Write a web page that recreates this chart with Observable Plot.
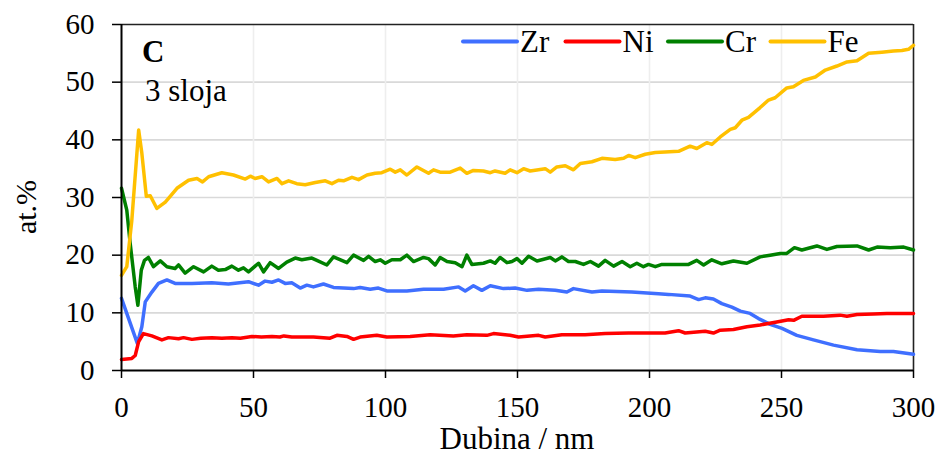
<!DOCTYPE html>
<html>
<head>
<meta charset="utf-8">
<script src="https://cdn.jsdelivr.net/npm/d3@7"></script>
<script src="https://cdn.jsdelivr.net/npm/@observablehq/plot@0.6"></script>
<style>
  html, body { margin: 0; padding: 0; background: white; }
  #chart { width: 943px; height: 455px; }
</style>
</head>
<body>
<div id="chart"></div>
<script>
// ---- Data (depth in nm, atomic %) ----
const seriesNames = ["Zr", "Ni", "Cr", "Fe"];
const seriesColors = ["#3f6fff", "#ff0000", "#008000", "#ffc000"];
const xTicks = [0, 50, 100, 150, 200, 250, 300];
const yTicks = [0, 10, 20, 30, 40, 50, 60];
const xLabel = "Dubina / nm";
const yLabel = "at.%";
const panelLetter = "C";
const panelNote = "3 sloja";

const zr = [[0,12.5],[2.7,9.0],[6,4.7],[7.7,7.6],[9,11.9],[11.5,13.6],[14,15.1],[17.2,15.7],[20.3,15.1],[26.7,15.1],[34.2,15.2],[40.5,15.0],[48.1,15.4],[51.9,14.8],[54.4,15.5],[57,15.3],[59.5,15.7],[62,15.1],[64.5,15.2],[67.7,14.3],[70.2,14.8],[72.7,14.5],[76.5,15.0],[80.3,14.4],[87.9,14.2],[90.4,14.4],[94.2,14.1],[97.3,14.3],[100.5,13.8],[108.1,13.8],[114.4,14.1],[122,14.1],[127.7,14.5],[130.2,13.8],[133.3,14.7],[136.5,13.9],[139.7,14.7],[144.7,14.2],[149.1,14.3],[153.6,13.9],[158,14.1],[164.3,13.9],[168.7,13.6],[171.2,14.2],[178.2,13.6],[182,13.8],[193.3,13.6],[203.4,13.3],[207.2,13.2],[215.4,12.9],[218.6,12.3],[221.1,12.6],[224.2,12.4],[227.4,11.6],[231.2,11.0],[234.4,10.3],[238.1,9.9],[241.3,9.0],[245.7,8.0],[250.2,7.3],[255.8,6.1],[262.1,5.3],[269.7,4.4],[278.6,3.6],[287.4,3.3],[292.4,3.3],[300,2.8]];

const ni = [[0,1.9],[3.9,2.1],[5.2,2.6],[6.5,5.0],[8.3,6.4],[11.5,6.0],[15.3,5.3],[17.8,5.7],[21.6,5.5],[23.5,5.7],[26.7,5.4],[30,5.6],[34.2,5.7],[38,5.6],[41.8,5.7],[45,5.6],[49.4,5.9],[53,5.8],[57,5.9],[60,5.8],[61.5,6.0],[64.5,5.8],[72.7,5.8],[79,5.6],[81.6,6.1],[85.4,5.9],[87.9,5.4],[90.4,5.8],[96.7,6.1],[100.5,5.8],[109.3,5.9],[116.9,6.2],[125.7,6.0],[130.8,6.2],[138.4,6.1],[140.9,6.4],[147.2,6.1],[150.4,5.8],[158,6.1],[160.5,5.8],[166.8,6.2],[175.6,6.2],[183.2,6.4],[192.1,6.5],[199.6,6.5],[205.9,6.5],[211,6.9],[213.5,6.5],[221.1,6.8],[224.2,6.5],[226.8,7.0],[231.8,7.1],[236.9,7.6],[241.9,7.9],[248.2,8.4],[252.7,8.8],[254.6,8.7],[257.7,9.4],[265.9,9.4],[272.2,9.6],[274.8,9.4],[278.6,9.7],[284.8,9.8],[289.9,9.9],[300,9.9]];

const cr = [[0,31.6],[2,27.8],[3.3,22],[5.2,14.5],[6.2,11.3],[7.5,17.4],[8.7,19.1],[10.2,19.6],[12.1,18],[14.7,19],[17.2,18],[20.3,17.7],[21.6,18.3],[24.1,16.9],[27.3,18],[31.1,17.1],[34.2,18.1],[36.7,17.4],[39.3,17.5],[41.8,18.1],[44.3,17.4],[46.2,17.8],[48.1,17.1],[51.9,18.6],[53.8,17.1],[56.3,18.7],[59.5,17.7],[62.6,18.8],[65.8,19.5],[68.3,19.2],[72.1,19.5],[74,19.1],[77.8,18.3],[80.3,19.7],[85.4,18.7],[87.9,20],[91.7,19.1],[93.6,19.8],[96.1,18.9],[98,19.2],[99.9,18.6],[102.4,19.2],[105.6,19.2],[108.1,20],[110.6,18.9],[114.4,19.6],[116.3,19.4],[118.8,18.3],[120.7,19.6],[123.3,18.9],[126.4,18.7],[129,18],[130.8,20],[132.7,18.4],[137.1,18.6],[139.7,19],[141.5,18.6],[143.4,19.6],[146,18.7],[147.9,18.9],[149.8,19.4],[151.7,18.6],[154.2,19.8],[157.4,19],[162.4,19.6],[164.3,19],[166.8,19.7],[169.3,18.9],[171.9,18.9],[175,18.4],[177.6,18.9],[180.7,18.1],[183.2,19.1],[186.4,18.1],[189.6,18.9],[192.7,18],[195.2,18.6],[197.7,18],[199.6,18.4],[202.2,18],[204.7,18.4],[209.7,18.4],[214.8,18.4],[217.9,19.1],[220.5,18.3],[223.6,19.2],[227.4,18.5],[231.8,19],[236.9,18.6],[241.9,19.7],[245.7,20],[249.5,20.3],[252,20.3],[254.9,21.3],[257.7,20.9],[263.4,21.6],[267.2,21],[271,21.5],[278.6,21.6],[283,20.9],[286.2,21.4],[291.2,21.3],[296.3,21.4],[300,20.9]];

const fe = [[0,16.5],[2,18],[3.9,26],[6.5,41.7],[7.7,37.7],[9.4,30.2],[10.9,30.3],[13.4,28.1],[16.6,29.2],[21,31.6],[25.4,33],[28.6,33.3],[30.7,32.7],[33,33.6],[38,34.3],[42.4,33.9],[46.9,33.2],[48.8,33.7],[50.6,33.3],[53.2,33.6],[55.7,32.7],[58.9,33.3],[60.8,32.4],[63.3,32.9],[66.4,32.4],[69.6,32.2],[73.4,32.6],[77.2,32.9],[79.7,32.4],[82.2,33],[84.1,32.9],[87.3,33.5],[89.8,33.1],[93,33.9],[96.1,34.2],[98.6,34.3],[101.8,34.9],[103.7,34.4],[105.6,34.8],[108.1,33.9],[111.9,35.3],[116.3,34.2],[118.2,34.8],[120.7,34.4],[124.5,34.4],[128.3,35.1],[130.8,34.2],[133.3,34.7],[137.1,34.6],[139.7,34.3],[141.5,34.6],[145.3,34.2],[147.2,34.8],[149.8,34.3],[152.3,35.0],[154.8,34.6],[160.5,35.0],[162.4,34.4],[164.9,35.3],[168.1,35.5],[171.2,34.8],[173.8,35.9],[178.2,36.2],[182,36.8],[187,36.6],[190.2,36.8],[192.1,37.3],[194.6,36.9],[198.4,37.5],[202.2,37.8],[205.9,37.9],[211,38.0],[215.4,38.9],[217.9,38.5],[221.7,39.5],[223.6,39.2],[226.8,40.5],[230.6,41.8],[232.5,42.1],[235,43.4],[237.5,43.9],[241.9,45.6],[245.1,46.9],[247.6,47.3],[252,49.0],[254.5,49.2],[258.3,50.3],[262.8,50.9],[266.6,52.1],[271,52.8],[274.8,53.5],[278.6,53.7],[283,55.0],[288,55.2],[292.4,55.4],[295.6,55.5],[298.1,55.7],[300,56.4]];

const seriesData = [zr, ni, cr, fe];

// ---- Chart ----
const W = 943, H = 455;
const mL = 121, mR = 30, mT = 24, mB = 85;
const FONT = "'Liberation Serif', 'Times New Roman', serif";

const lineMarks = seriesData.map((data, i) =>
  Plot.line(data, {
    x: d => d[0], y: d => d[1],
    stroke: seriesColors[i], strokeWidth: 3.5,
    strokeLinejoin: "round", strokeLinecap: "round"
  })
);

const plot = Plot.plot({
  width: W, height: H,
  marginLeft: mL, marginRight: mR, marginTop: mT, marginBottom: mB,
  style: { fontFamily: FONT, fontSize: "29px", background: "white", color: "black", overflow: "visible" },
  x: { domain: [0, 300] },
  y: { domain: [0, 60] },
  marks: [
    Plot.gridY(yTicks.slice(1, -1), { stroke: "#d9d9d9", strokeOpacity: 1, strokeWidth: 1.6 }),
    Plot.gridX(xTicks.slice(1, -1), { stroke: "#eeeeee", strokeOpacity: 1, strokeWidth: 1.6 }),
    Plot.axisX(xTicks, { tickSize: 8, tickPadding: 18, label: null, stroke: "black", strokeWidth: 1.5, fontSize: 29 }),
    Plot.axisY(yTicks, { tickSize: 9, tickPadding: 18, label: null, stroke: "black", strokeWidth: 1.5, fontSize: 29 }),
    Plot.ruleY([60], { stroke: "#222", strokeWidth: 1.6 }),
    Plot.ruleX([300], { stroke: "#222", strokeWidth: 1.6 }),
    ...lineMarks,
    Plot.ruleX([0], { stroke: "black", strokeWidth: 2 }),
    Plot.ruleY([0], { stroke: "black", strokeWidth: 2 })
  ]
});

const svg = d3.select(plot);

// axis titles
svg.append("text")
  .attr("x", (mL + (W - mR)) / 2).attr("y", 449)
  .attr("text-anchor", "middle")
  .style("font-family", FONT).style("font-size", "31px").attr("fill", "black")
  .text(xLabel);

svg.append("text")
  .attr("transform", `translate(36, ${ (mT + H - mB) / 2 + 10 }) rotate(-90)`)
  .attr("text-anchor", "middle")
  .style("font-family", FONT).style("font-size", "30px").attr("fill", "black")
  .text(yLabel);

// panel annotations
svg.append("text")
  .attr("x", 142).attr("y", 62)
  .attr("text-anchor", "start")
  .style("font-family", FONT).style("font-size", "31px").style("font-weight", "bold").attr("fill", "black")
  .text(panelLetter);
svg.append("text")
  .attr("x", 145).attr("y", 101)
  .attr("text-anchor", "start")
  .style("font-family", FONT).style("font-size", "31px").attr("fill", "black")
  .text(panelNote);

// legend
const legStart = 463, legStep = 102.5, legLine = 54, legY = 41.5;
seriesNames.forEach((name, i) => {
  const x0 = legStart + i * legStep;
  svg.append("line")
    .attr("x1", x0).attr("x2", x0 + legLine)
    .attr("y1", legY).attr("y2", legY)
    .attr("stroke", seriesColors[i]).attr("stroke-width", 4).attr("stroke-linecap", "round");
  svg.append("text")
    .attr("x", x0 + legLine + 3).attr("y", legY + 10.5)
    .attr("text-anchor", "start")
    .style("font-family", FONT).style("font-size", "31px").attr("fill", "black")
    .text(name);
});

document.getElementById("chart").appendChild(plot);
</script>
</body>
</html>
